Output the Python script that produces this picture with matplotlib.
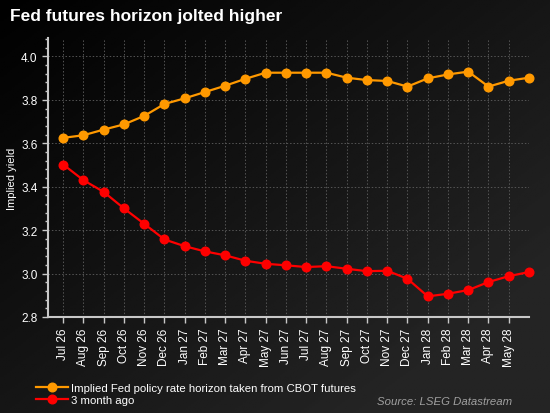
import numpy as np
import matplotlib
matplotlib.use("Agg")
import matplotlib.pyplot as plt
from matplotlib.ticker import MultipleLocator

plt.rcParams['font.family'] = ['Liberation Sans', 'DejaVu Sans']

# month labels (last point Jun 28 has no label on the axis)
months = ["Jul 26", "Aug 26", "Sep 26", "Oct 26", "Nov 26", "Dec 26",
          "Jan 27", "Feb 27", "Mar 27", "Apr 27", "May 27", "Jun 27",
          "Jul 27", "Aug 27", "Sep 27", "Oct 27", "Nov 27", "Dec 27",
          "Jan 28", "Feb 28", "Mar 28", "Apr 28", "May 28", "Jun 28"]
tick_labels = months[:-1]

implied_now = [3.625, 3.637, 3.663, 3.687, 3.726, 3.781, 3.807, 3.836,
               3.865, 3.897, 3.925, 3.925, 3.925, 3.925, 3.902, 3.891,
               3.887, 3.861, 3.899, 3.917, 3.930, 3.861, 3.888, 3.902]
three_month_ago = [3.502, 3.430, 3.376, 3.300, 3.229, 3.157, 3.126, 3.102,
                   3.084, 3.059, 3.045, 3.038, 3.030, 3.034, 3.022, 3.011,
                   3.013, 2.976, 2.895, 2.907, 2.924, 2.961, 2.988, 3.007]

fig = plt.figure(figsize=(5.5, 4.14), dpi=100)

# dark diagonal background gradient
bg = fig.add_axes([0, 0, 1, 1], zorder=-10)
gx, gy = np.meshgrid(np.linspace(0, 1, 200), np.linspace(0, 1, 200))
grad = np.clip((gx * 0.6 + gy * 0.6), 0, 1)
bg.imshow(grad, cmap='gray', vmin=0, vmax=7, aspect='auto',
          extent=[0, 1, 0, 1], origin='upper')
bg.set_axis_off()

ax = fig.add_axes([0.0873, 0.2319, 0.8745, 0.674])
ax.set_facecolor('none')

x = np.arange(len(months))
ax.plot(x, implied_now, color='#ff9900', lw=1.6, marker='o', ms=6.2,
        label='Implied Fed policy rate horizon taken from CBOT futures',
        clip_on=False, zorder=3)
ax.plot(x, three_month_ago, color='#ff0000', lw=1.6, marker='o', ms=6.2,
        label='3 month ago', clip_on=False, zorder=3)

ax.set_xlim(-0.75, 23)
ax.set_ylim(2.8, 4.085)
ax.set_xticks(x[:-1])
ax.set_xticklabels(tick_labels, rotation=90, color='white', fontsize=8.5)
ax.yaxis.set_minor_locator(MultipleLocator(0.04))
ax.set_yticks([2.8, 3.0, 3.2, 3.4, 3.6, 3.8, 4.0])
ax.set_yticklabels(['2.8', '3.0', '3.2', '3.4', '3.6', '3.8', '4.0'],
                   color='white', fontsize=8.5)

ax.tick_params(axis='both', which='major', colors='#c8c8c8', length=4, width=1)
ax.tick_params(axis='y', which='minor', colors='#c8c8c8', length=2, width=1)
ax.tick_params(axis='both', labelcolor='white')

for s in ['top', 'right']:
    ax.spines[s].set_visible(False)
for s in ['left', 'bottom']:
    ax.spines[s].set_color('#c8c8c8')
    ax.spines[s].set_linewidth(1.5)

ax.grid(True, which='major', color='#555555', linestyle=(0, (1.5, 2)), lw=0.7)

ax.set_ylabel('Implied yield', color='white', fontsize=8)
ax.yaxis.set_label_coords(-0.064, 0.5)

fig.text(0.018, 0.961, 'Fed futures horizon jolted higher', color='white',
         fontsize=12.5, fontweight='bold', ha='left', va='center')

leg = ax.legend(loc='upper left', bbox_to_anchor=(-0.025, -0.236), frameon=False,
                fontsize=8.2, labelcolor='white', handlelength=2.8,
                handletextpad=0.25, borderaxespad=0, borderpad=0,
                labelspacing=0.15)

fig.text(0.931, 0.029, 'Source: LSEG Datastream', color='#a0a0a0',
         fontsize=8.2, style='italic', ha='right', va='center')

fig.savefig('out.png', dpi=100, facecolor='black')
